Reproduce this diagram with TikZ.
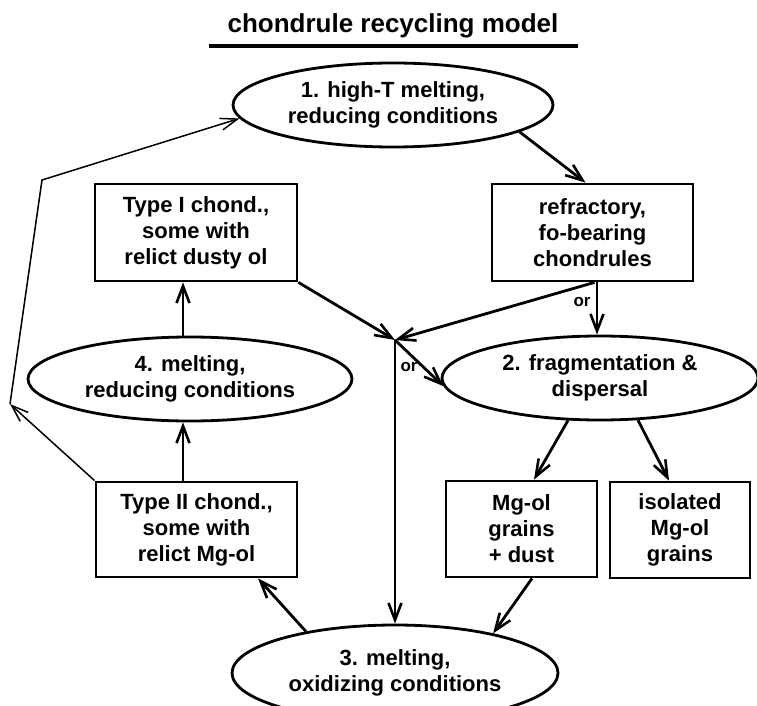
\documentclass[tikz,border=0pt]{standalone}
\usepackage{fontspec}
\setmainfont{Liberation Sans}
\usetikzlibrary{shapes.geometric,arrows.meta}
\begin{document}
\begin{tikzpicture}[x=1pt,y=-1pt,
 lbl/.style={font=\bfseries\fontsize{22}{26}\selectfont, align=center},
 ell/.style={lbl, draw, line width=2.8pt, ellipse, inner sep=0pt},
 boxn/.style={lbl, draw, line width=2.8pt, rectangle, inner sep=0pt},
 arr/.style={line width=2.8pt, -{Straight Barb[length=17pt,width=13pt,line width=2.6pt]}},
 thinarr/.style={line width=1.5pt, -{Straight Barb[length=17pt,width=12pt,line width=1.5pt]}},
 ortxt/.style={font=\bfseries\fontsize{17}{20}\selectfont, inner sep=0pt}
]
\useasboundingbox (0,0) rectangle (757,706);
% title
\node[font=\bfseries\fontsize{26}{30}\selectfont, inner sep=0pt] (title) at (393,26) {chondrule recycling model};
\draw[line width=4pt] (209,46) -- (578,46);
% nodes
\node[ell, minimum width=320pt, minimum height=84pt] (e1) at (393,105) {1. high-T melting,\\reducing conditions};
\node[boxn, minimum width=202pt, minimum height=97pt] (b1) at (196,232.5) {Type I chond.,\\some with\\relict dusty ol};
\node[boxn, minimum width=201pt, minimum height=97pt] (rf) at (592.5,232.5) {refractory,\\fo-bearing\\chondrules};
\node[ell, minimum width=324pt, minimum height=84pt] (e4) at (190,379) {4. melting,\\reducing conditions};
\node[ell, minimum width=316pt, minimum height=84pt] (e2) at (600,378) {2. fragmentation \&\\dispersal};
\node[boxn, minimum width=201pt, minimum height=95pt] (b2) at (196.5,529.5) {Type II chond.,\\some with\\relict Mg-ol};
\node[boxn, minimum width=151pt, minimum height=96pt] (mg) at (521.5,529) {Mg-ol\\grains\\+ dust};
\node[boxn, minimum width=140pt, minimum height=96pt] (iso) at (680,530) {isolated\\Mg-ol\\grains};
\node[ell, minimum width=326pt, minimum height=96pt] (e3) at (395,673) {3. melting,\\oxidizing conditions};
\coordinate (j) at (395,340);
\coordinate (r1) at (10,404);
\coordinate (r2) at (42,180);
\node[ortxt] (or1) at (582,302) {or};
\node[ortxt] (or2) at (409,367) {or};
% connectors
\draw[arr] (e1.-12) -- ([xshift=-7pt]rf.north);
\draw[arr] ([xshift=4.5pt]rf.south) coordinate (rs) -- (rs |- e2.north);
\draw[arr] ([xshift=2pt]rf.south) -- (j);
\draw[arr] (b1.south east) -- (j);
\draw[arr] (j) -- (e2.183);
\draw[arr] (j) -- (j |- e3.north);
\draw[arr] ([xshift=-7pt]e4.north) coordinate (e4n) -- (e4n |- b1.south);
\draw[arr] ([xshift=-13.5pt]b2.north) coordinate (b2n) -- (b2n |- e4.south);
\draw[arr] (e2.-127) -- ([xshift=12.5pt]mg.north);
\draw[arr] (e2.-48) -- ([xshift=-11pt]iso.north);
\draw[arr] ([xshift=10.5pt]mg.south) -- (e3.22);
\draw[arr] (e3.155) -- ([xshift=61.5pt]b2.south);
\draw[thinarr] (b2.north west) -- (r1);
\draw[thinarr] (r1) -- (r2) -- (e1.185);
\end{tikzpicture}
\end{document}
